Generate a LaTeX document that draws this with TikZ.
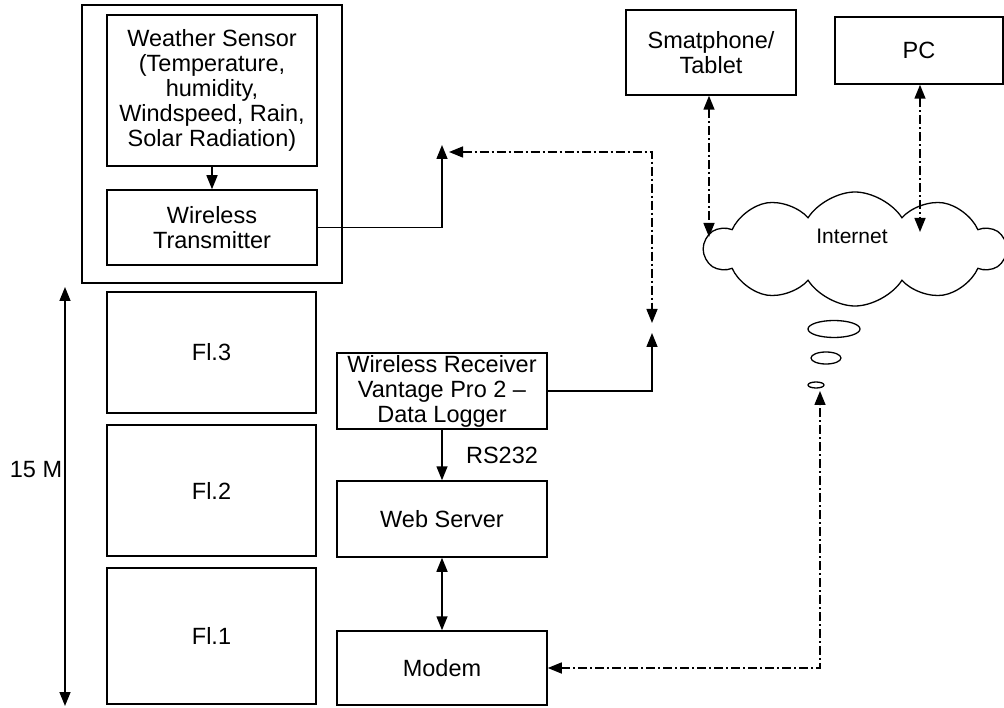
\documentclass[tikz,border=0pt]{standalone}
\usepackage{fontspec}
\setmainfont{Liberation Sans}
\usetikzlibrary{arrows.meta,shapes.geometric,shapes.symbols}
\tikzset{>={Triangle[length=14pt,width=11pt]}}
\tikzset{box/.style={draw,line width=1.5pt,align=center,inner sep=0pt},
  link/.style={line width=1.5pt,dash pattern=on 9pt off 3pt on 2pt off 3pt},
  wire/.style={line width=1.5pt}}

\begin{document}
\begin{tikzpicture}[x=1pt,y=-1pt,font=\fontsize{23.5}{25}\selectfont]
\useasboundingbox (0,0) rectangle (1004,708);
% building and station
\node (station) [box,minimum width=260pt,minimum height=278pt] at (212,144) {};
\node (sensor) [box,minimum width=210pt,minimum height=151pt] at (212,90.5) {Weather Sensor\\(Temperature,\\humidity,\\Windspeed, Rain,\\Solar Radiation)};
\node (transmitter) [box,minimum width=210pt,minimum height=75pt] at (212,227.5) {Wireless\\Transmitter};
\node (fl3) [box,minimum width=209pt,minimum height=121pt] at (211.5,352.5) {Fl.3};
\node (fl2) [box,minimum width=209pt,minimum height=131pt] at (211.5,490.5) {Fl.2};
\node (fl1) [box,minimum width=209pt,minimum height=136pt] at (211.5,636) {Fl.1};
\node (receiver) [box,minimum width=210pt,minimum height=76pt] at (442,391) {Wireless Receiver\\Vantage Pro 2 --\\Data Logger};
\node (webserver) [box,minimum width=210pt,minimum height=76pt] at (442,519) {Web Server};
\node (modem) [box,minimum width=210pt,minimum height=74pt] at (442,668) {Modem};
% clients and internet
\node (phone) [box,minimum width=170pt,minimum height=85pt] at (711,52.5) {Smatphone/\\Tablet};
\node (pc) [box,minimum width=168pt,minimum height=67pt] at (919,50.5) {PC};
\node (internet) [cloud,draw,line width=1.3pt,cloud puffs=10,cloud puff arc=115,aspect=2.6,minimum width=300pt,minimum height=114pt] at (855,249) {};
\node (inettext) at (852,236) {\fontsize{21}{25}\selectfont Internet};
\node (bubble1) [ellipse,draw,line width=1.3pt,minimum width=52pt,minimum height=17pt,inner sep=0pt] at (834,329) {};
\node (bubble2) [ellipse,draw,line width=1.3pt,minimum width=30pt,minimum height=12pt,inner sep=0pt] at (826,358) {};
\node (bubble3) [ellipse,draw,line width=1.3pt,minimum width=16pt,minimum height=6pt,inner sep=0pt] at (816,385) {};
% link end points
\coordinate (txant) at (442,145);
\coordinate (txlink) at (449,152);
\coordinate (rxlink) at (652,323);
\coordinate (rxant) at (652,333);
\coordinate (inetin) at (820,391);
\coordinate (phonein) at (709,237);
\coordinate (pcin) at (920,232);
\coordinate (htop) at (65,287);
\coordinate (hbot) at (65,706);
% connectors
\draw[wire,->] (sensor) -- (transmitter);
\draw[wire,->] (transmitter.east) -| (txant);
\draw[link,<->] (txlink) -| (rxlink);
\draw[wire,->] (receiver.east) -| (rxant);
\draw[wire,->] (receiver) -- node[right=20pt] {RS232} (webserver);
\draw[wire,<->] (webserver) -- (modem);
\draw[link,<->] (modem.east) -| (inetin);
\draw[link,<->] (phone.south -| phonein) -- (phonein);
\draw[link,<->] (pc.south -| pcin) -- (pcin);
\draw[wire,<->] (htop) -- (hbot);
\node (height) at (36,470) {15 M};
\end{tikzpicture}
\end{document}
